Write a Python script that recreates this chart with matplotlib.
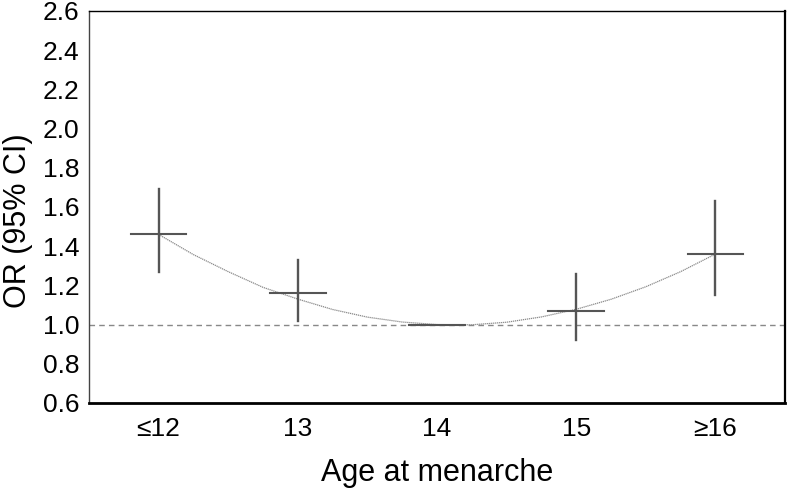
import matplotlib.pyplot as plt
import numpy as np

plt.rcParams["font.family"] = ["Liberation Sans", "DejaVu Sans"]

# categories and estimates
categories = ["\u226412", "13", "14", "15", "\u226516"]
odds_ratio = [1.46, 1.16, 1.00, 1.07, 1.36]
ci_low = [1.27, 1.02, 1.00, 0.92, 1.15]
ci_high = [1.69, 1.33, 1.00, 1.26, 1.63]

# fitted trend curve at quarter steps
curve_x = [0, 0.25, 0.5, 0.75, 1.0, 1.25, 1.5, 1.75, 2.0,
           2.25, 2.5, 2.75, 3.0, 3.25, 3.5, 3.75, 4.0]
curve_y = [1.46, 1.357, 1.27, 1.19, 1.13, 1.077, 1.038, 1.013, 1.0,
           0.999, 1.012, 1.039, 1.078, 1.129, 1.193, 1.27, 1.36]

y_ticks = [0.6, 0.8, 1.0, 1.2, 1.4, 1.6, 1.8, 2.0, 2.2, 2.4, 2.6]

fig = plt.figure(figsize=(7.87, 4.90), dpi=100)
ax = fig.add_axes([0.1131, 0.1776, 0.8844, 0.80])

x = np.arange(len(categories))
half = 0.2  # half width of horizontal bar

# reference line at OR = 1
ax.axhline(1.0, color="#888888", lw=1.0, ls=(0, (4, 3)), zorder=1)

# trend curve
ax.plot(curve_x, curve_y, color="#8a8a8a", lw=0.9, ls=(0, (1, 0.6)), zorder=2)

for xi, est, lo, hi in zip(x, odds_ratio, ci_low, ci_high):
    ax.plot([xi - half, xi + half], [est, est], color="#555555", lw=1.5, zorder=3)
    if hi > lo:
        ax.plot([xi, xi], [lo, hi], color="#555555", lw=1.7, zorder=3)

ax.set_xlim(-0.5, 4.5)
ax.set_ylim(0.6, 2.6)
ax.set_xticks(x)
ax.set_xticklabels(categories)
ax.set_yticks(y_ticks)
ax.set_yticklabels([f"{t:.1f}" for t in y_ticks])
ax.tick_params(axis="both", length=0, labelsize=19)
ax.tick_params(axis="x", pad=10)
ax.tick_params(axis="y", pad=7)

ax.set_xlabel("Age at menarche", fontsize=22, labelpad=12)
ax.set_ylabel("OR (95% CI)", fontsize=22)
ax.yaxis.set_label_coords(-0.08, 0.464)

ax.spines["left"].set_linewidth(1.0)
ax.spines["left"].set_color("#444444")
ax.spines["top"].set_linewidth(1.0)
ax.spines["bottom"].set_linewidth(2.0)
ax.spines["right"].set_linewidth(1.6)

fig.savefig("out.png", dpi=100)
